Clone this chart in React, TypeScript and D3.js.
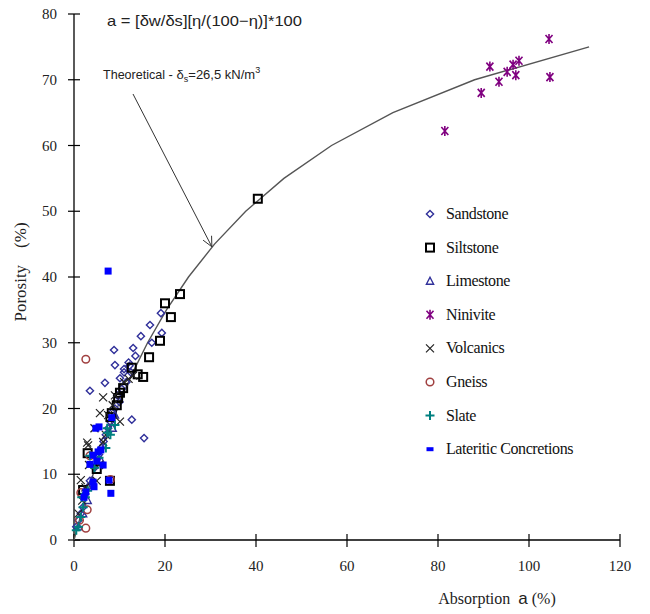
import React from "react";
import * as d3 from "d3";

const xTicks = [0, 20, 40, 60, 80, 100, 120];
const yTicks = [0, 10, 20, 30, 40, 50, 60, 70, 80];

// theoretical curve: porosity (eta) and absorption a
const curveEta = [0, 5, 10, 15, 20, 25, 30, 35, 40, 45, 50, 55, 60, 65, 70, 75];
const curveA = [0, 1.99, 4.19, 6.66, 9.43, 12.58, 16.17, 20.32, 25.16, 30.88, 37.74, 46.13, 56.6, 70.09, 88.05, 113.21];

const sandstone: [number, number][] = [
  [19.1, 34.5], [16.7, 32.7], [14.7, 31.0], [13, 29.2], [17.1, 30], [19.3, 31.5], [8.8, 28.9], [9, 26.6],
  [3.5, 22.7], [6.8, 23.9], [10.1, 24.6], [12.7, 18.3], [15.4, 15.5], [11, 26], [12, 27], [12.5, 25.5],
  [11.5, 24], [10.5, 23], [9.5, 22], [9, 20], [8, 18], [7, 16], [6.5, 15], [5.5, 13], [4.5, 11],
  [3.5, 9], [2.5, 7], [2, 5], [1.5, 4], [1, 3], [0.5, 2], [13.5, 28], [11, 25.5], [10, 21], [12.2, 26.5],
  [8.5, 19.5], [7.5, 17], [6, 14], [3, 8],
];
const siltstone: [number, number][] = [
  [40.4, 51.9], [23.3, 37.4], [20.0, 36.0], [21.3, 33.9], [18.9, 30.3], [16.5, 27.8], [12.7, 26.2],
  [14, 25.2], [15.2, 24.8], [10.8, 23.1], [10.1, 22.4], [9.7, 21.6], [9.4, 20.5], [8.3, 19.3], [8.0, 18.7],
  [3, 13.2], [7.9, 9.0], [2, 7.6], [5, 10.8],
];
const limestone: [number, number][] = [
  [1, 2], [2, 4], [3, 6], [8.5, 17], [9, 19], [4, 9], [6, 12],
];
const ninivite: [number, number][] = [
  [81.5, 62.2], [89.5, 68], [91.4, 72], [93.4, 69.7], [95.2, 71.2], [96.5, 72.3], [97.1, 70.7],
  [97.8, 72.9], [104.4, 76.2], [104.6, 70.4],
];
const volcanics: [number, number][] = [
  [6.4, 21.7], [5.7, 19.3], [2.9, 14.8], [6.4, 14.9], [10.1, 18], [3.1, 14.4], [1.5, 9.1], [3.3, 11.4],
  [5.5, 11.4], [7.5, 19], [8.5, 20.5], [9, 22], [4.5, 17], [5, 9], [2.5, 8], [1, 4], [7, 16], [11, 24],
  [12, 24.5], [13, 25], [1.8, 6],
];
const gneiss: [number, number][] = [
  [2.6, 27.5], [2.6, 1.8], [2.9, 4.6], [1.2, 3], [3.5, 12.8], [1.5, 7.2], [8, 9.2],
];
const slate: [number, number][] = [
  [1, 2], [1.5, 3.5], [2, 5], [2.5, 6.5], [3, 7.5], [4.5, 11], [8, 16], [7, 14], [5.5, 12.5], [0.5, 1.5],
  [7.3, 17], [7.4, 16.3], [9, 17.5], [3.5, 12.8], [1.7, 6.5],
];
const lateritic: [number, number][] = [
  [7.5, 40.9], [8.3, 18.6], [5.5, 17.2], [5.3, 13.4], [4.2, 12.9], [5.9, 13.7], [6.4, 11.4], [4.2, 8.8],
  [2.6, 7.3], [8.1, 7.1], [7.7, 9.1], [4.4, 8.1], [2.2, 6.5], [4.8, 17], [3.5, 11.5], [5, 12],
];

const legendNames = ["Sandstone", "Siltstone", "Limestone", "Ninivite", "Volcanics", "Gneiss", "Slate", "Lateritic Concretions"];

const W = 650, H = 614;
const x = d3.scaleLinear().domain([0, 120]).range([74, 620]);
const y = d3.scaleLinear().domain([0, 80]).range([540, 14]);

type Kind = "diamond" | "square" | "triangle" | "star" | "x" | "circle" | "plus" | "fill";

function Marker({ kind, cx, cy, legend }: { kind: Kind; cx: number; cy: number; legend?: boolean }) {
  switch (kind) {
    case "diamond":
      return <path d={`M${cx},${cy - 3.6}L${cx + 3.6},${cy}L${cx},${cy + 3.6}L${cx - 3.6},${cy}Z`} fill="none" stroke="#30309a" strokeWidth={1.4} />;
    case "square":
      return <rect x={cx - 4} y={cy - 4} width={8} height={8} fill="none" stroke="#000" strokeWidth={2} />;
    case "triangle":
      return <path d={`M${cx},${cy - 4}L${cx + 3.6},${cy + 3}L${cx - 3.6},${cy + 3}Z`} fill="none" stroke="#30309a" strokeWidth={1.4} />;
    case "star":
      return <path d={`M${cx},${cy - 5}L${cx},${cy + 5}M${cx - 3.5},${cy - 4}L${cx + 3.5},${cy + 4}M${cx + 3.5},${cy - 4}L${cx - 3.5},${cy + 4}`} stroke="#800080" strokeWidth={1.6} fill="none" />;
    case "x":
      return <path d={`M${cx - 4},${cy - 4}L${cx + 4},${cy + 4}M${cx + 4},${cy - 4}L${cx - 4},${cy + 4}`} stroke="#222" strokeWidth={1.2} fill="none" />;
    case "circle":
      return <circle cx={cx} cy={cy} r={3.8} fill="none" stroke="#a04040" strokeWidth={1.5} />;
    case "plus":
      return <path d={`M${cx - 4.5},${cy}L${cx + 4.5},${cy}M${cx},${cy - 4.5}L${cx},${cy + 4.5}`} stroke="#008080" strokeWidth={2} fill="none" />;
    case "fill":
      return legend
        ? <rect x={cx - 3.5} y={cy - 2} width={7} height={4} fill="#0000ff" />
        : <rect x={cx - 3.5} y={cy - 3.5} width={7} height={7} fill="#0000ff" />;
  }
}

const seriesDefs: { data: [number, number][]; kind: Kind }[] = [
  { data: sandstone, kind: "diamond" },
  { data: siltstone, kind: "square" },
  { data: limestone, kind: "triangle" },
  { data: ninivite, kind: "star" },
  { data: volcanics, kind: "x" },
  { data: gneiss, kind: "circle" },
  { data: slate, kind: "plus" },
  { data: lateritic, kind: "fill" },
];

export default function App() {
  const line = d3.line<number>().x((_, i) => x(curveA[i])).y((d) => y(d));
  const curvePath = line(curveEta) || "";

  const tail = [133, 94];
  const head = [x(30.3), y(44.6)];
  const ang = Math.atan2(head[1] - tail[1], head[0] - tail[0]);
  const bl = 11, spread = 0.45;
  const b1 = [head[0] - bl * Math.cos(ang - spread), head[1] - bl * Math.sin(ang - spread)];
  const b2 = [head[0] - bl * Math.cos(ang + spread), head[1] - bl * Math.sin(ang + spread)];

  const serif = "'Liberation Serif', 'Times New Roman', serif";
  const sans = "'Liberation Sans', Arial, sans-serif";

  return (
    <svg width={W} height={H} style={{ position: "absolute", left: 0, top: 0, background: "#fff" }}>
      <rect width={W} height={H} fill="#fff" />
      {/* axes */}
      <line x1={x(0)} x2={x(0)} y1={y(80)} y2={y(0)} stroke="#000" strokeWidth={1.3} />
      <line x1={x(0)} x2={x(120)} y1={y(0)} y2={y(0)} stroke="#000" strokeWidth={1.3} />
      {yTicks.map((t) => (
        <g key={"y" + t}>
          <line x1={x(0) - 6} x2={x(0) + 6} y1={y(t)} y2={y(t)} stroke="#000" strokeWidth={1.2} />
          <text x={57} y={y(t) + 5} textAnchor="end" fontFamily={serif} fontSize={15} fill="#222">{t}</text>
        </g>
      ))}
      {xTicks.map((t) => (
        <g key={"x" + t}>
          <line x1={x(t)} x2={x(t)} y1={y(0) - 6} y2={y(0) + 7} stroke="#000" strokeWidth={1.2} />
          <text x={x(t)} y={y(0) + 31} textAnchor="middle" fontFamily={serif} fontSize={15} fill="#222">{t}</text>
        </g>
      ))}
      <text x={497} y={y(0) + 64} textAnchor="middle" fontFamily={serif} fontSize={16} fill="#222" style={{ whiteSpace: "pre" }}>
        Absorption  <tspan fontFamily={sans} fontSize={17}>a</tspan> (%)
      </text>
      <text transform={`translate(26,272) rotate(-90)`} textAnchor="middle" fontFamily={serif} fontSize={17} fill="#222" style={{ whiteSpace: "pre" }}>
        Porosity    (%)
      </text>

      {/* theoretical curve */}
      <path d={curvePath} fill="none" stroke="#555" strokeWidth={1.4} />
      {/* arrow */}
      <line x1={tail[0]} y1={tail[1]} x2={head[0]} y2={head[1]} stroke="#333" strokeWidth={1} />
      <path d={`M${b1[0]},${b1[1]}L${head[0]},${head[1]}L${b2[0]},${b2[1]}`} fill="none" stroke="#333" strokeWidth={1} />

      {/* annotations */}
      <text x={107} y={26} fontFamily={sans} fontSize={15} fill="#222" textLength={195} lengthAdjust="spacingAndGlyphs">
        a = [δw/δs][η/(100−η)]*100
      </text>
      <text x={103} y={79} fontFamily={sans} fontSize={13} fill="#222">
        <tspan textLength={62} lengthAdjust="spacingAndGlyphs">Theoretical</tspan>
        <tspan> - δ</tspan>
        <tspan fontSize={9} dy={3}>s</tspan>
        <tspan dy={-3}>=26,5 kN/m</tspan>
        <tspan fontSize={9} dy={-6}>3</tspan>
      </text>

      {/* series */}
      {seriesDefs.map((s, si) => (
        <g key={si}>
          {s.data.map((d, i) => (
            <Marker key={i} kind={s.kind} cx={x(d[0])} cy={y(d[1])} />
          ))}
        </g>
      ))}

      {/* legend */}
      {legendNames.map((n, i) => {
        const ly = 214 + i * 33.6;
        return (
          <g key={n}>
            <Marker kind={seriesDefs[i].kind} cx={430} cy={ly} legend />
            <text x={446} y={ly + 5} fontFamily={serif} fontSize={16} fill="#111" letterSpacing={-0.4}>{n}</text>
          </g>
        );
      })}
    </svg>
  );
}
